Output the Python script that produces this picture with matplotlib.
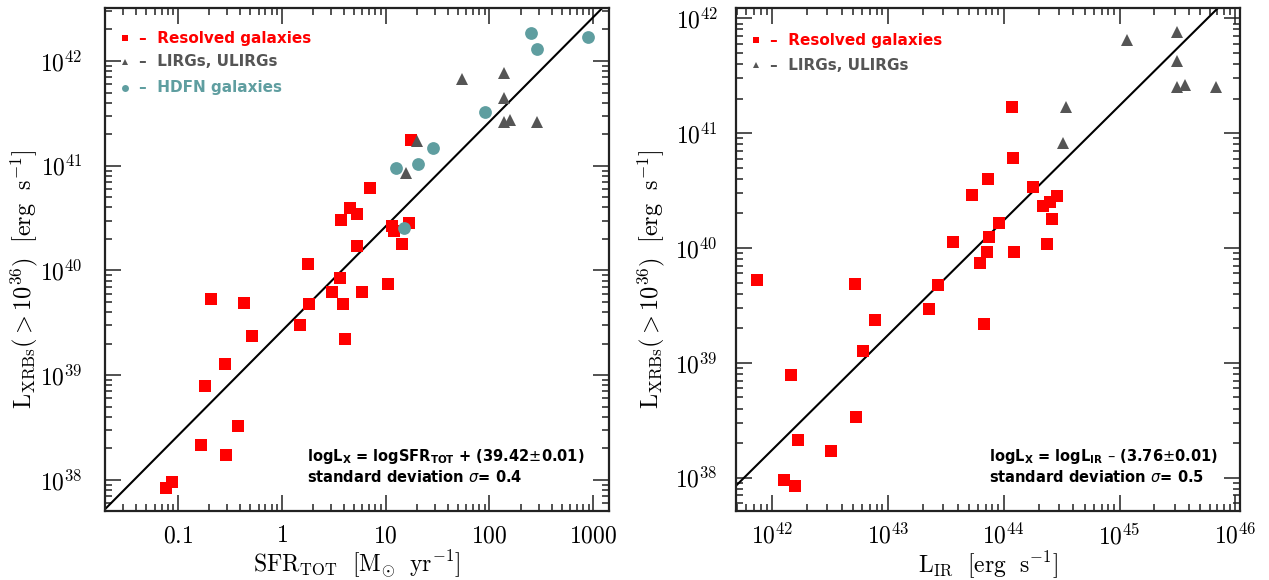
import numpy as np
import matplotlib
matplotlib.use("Agg")
import matplotlib.pyplot as plt
from matplotlib.ticker import LogLocator, FixedLocator, FixedFormatter, NullFormatter

plt.rcParams['mathtext.fontset'] = 'cm'

# ---------------- data (log10 values) ----------------
# Left panel: SFR_TOT vs L_XRBs
res_logsfr = [0.257, -0.68, -0.359, -0.282, -0.542, -0.74, -0.42, -0.776, -0.538,
              -1.052, -1.11, 0.18, 0.267, 0.488, 0.771, 0.594, 1.02, 0.613, 1.245,
              0.848, 0.661, 0.726, 0.575, 1.226, 1.064, 1.082, 0.729, 1.162, 0.565]
res_loglx_l = [40.06, 39.73, 39.69, 39.375, 39.105, 38.90, 38.52, 38.33, 38.236,
               37.98, 37.92, 39.48, 39.68, 39.79, 39.79, 39.68, 39.87, 39.344, 41.25,
               40.786, 40.60, 40.54, 40.48, 40.457, 40.426, 40.38, 40.23, 40.25, 39.93]
lirg_logsfr = [1.30, 1.20, 1.739, 2.143, 2.143, 2.137, 2.195, 2.461]
lirg_loglx_l = [41.24, 40.935, 41.83, 41.89, 41.65, 41.42, 41.44, 41.42]
hdfn_logsfr = [2.397, 2.458, 2.949, 1.958, 1.457, 1.104, 1.313, 1.178]
hdfn_loglx = [42.263, 42.117, 42.228, 41.51, 41.174, 40.98, 41.015, 40.41]

# Right panel: L_IR vs L_XRBs
res_loglir = [41.87, 42.713, 43.433, 43.56, 43.352, 42.886, 42.782, 42.169, 42.73,
              42.221, 42.512, 42.104, 42.195, 44.075, 44.084, 43.862, 43.727, 44.254,
              44.458, 44.403, 44.34, 44.415, 43.957, 43.87, 44.375, 43.853, 44.092,
              43.793, 43.83]
res_loglx_r = [39.72, 39.685, 39.68, 40.05, 39.473, 39.37, 39.103, 38.898, 38.528,
               38.331, 38.235, 37.98, 37.93, 41.23, 40.78, 40.597, 40.466, 40.527,
               40.45, 40.40, 40.37, 40.25, 40.22, 40.10, 40.035, 39.965, 39.965,
               39.87, 39.342]
lirg_loglir = [45.494, 45.066, 45.497, 45.50, 45.566, 45.834, 44.54, 44.51]
lirg_loglx_r = [41.878, 41.81, 41.63, 41.40, 41.42, 41.40, 41.224, 40.916]

fit_left_offset = 39.42
fit_right_offset = -3.76

xlim_left = (0.02, 1413)
ylim_left = (10**37.704, 10**42.506)
xlim_right = (10**41.69, 10**46.04)
ylim_right = (10**37.71, 10**42.09)

left_xticks = [0.1, 1, 10, 100, 1000]
left_xticklabels = [r'$0.1$', r'$1$', r'$10$', r'$100$', r'$1000$']
left_yticks = [1e38, 1e39, 1e40, 1e41, 1e42]
left_yticklabels = [r'$10^{38}$', r'$10^{39}$', r'$10^{40}$', r'$10^{41}$', r'$10^{42}$']
right_xticks = [1e42, 1e43, 1e44, 1e45, 1e46]
right_xticklabels = [r'$10^{42}$', r'$10^{43}$', r'$10^{44}$', r'$10^{45}$', r'$10^{46}$']
right_yticks = left_yticks
right_yticklabels = left_yticklabels

RED = '#ff0000'
GRAY = '#555555'
TEAL = '#5f9ea0'

fig = plt.figure(figsize=(12.69, 5.80), dpi=100)
axL = fig.add_axes([105/1269, 69/580, 504/1269, 503/580])
axR = fig.add_axes([736/1269, 69/580, 504/1269, 503/580])


def style(ax, xt, xtl, yt, ytl, ypad):
    ax.set_xscale('log')
    ax.set_yscale('log')
    ax.xaxis.set_major_locator(FixedLocator(xt))
    ax.xaxis.set_major_formatter(FixedFormatter(xtl))
    ax.yaxis.set_major_locator(FixedLocator(yt))
    ax.yaxis.set_major_formatter(FixedFormatter(ytl))
    ax.xaxis.set_minor_locator(LogLocator(base=10, subs=np.arange(2, 10), numticks=50))
    ax.yaxis.set_minor_locator(LogLocator(base=10, subs=np.arange(2, 10), numticks=50))
    ax.xaxis.set_minor_formatter(NullFormatter())
    ax.yaxis.set_minor_formatter(NullFormatter())
    ax.tick_params(which='both', direction='in', top=True, right=True, width=1.1,
                   color='#222222')
    ax.tick_params(which='major', length=11.5, labelsize=17)
    ax.tick_params(which='minor', length=5)
    ax.tick_params(axis='x', which='major', pad=9)
    ax.tick_params(axis='y', which='major', pad=ypad)
    for s in ax.spines.values():
        s.set_linewidth(1.6)
        s.set_color('#222222')


# ---------------- left panel ----------------
axL.set_xlim(*xlim_left)
axL.set_ylim(*ylim_left)
xs = np.array(xlim_left)
axL.plot(xs, 10**(np.log10(xs) + fit_left_offset), color='black', lw=1.5, zorder=2)
axL.plot(10**np.array(res_logsfr), 10**np.array(res_loglx_l), 's', color=RED,
         ms=8.6, mew=0, zorder=3)
axL.plot(10**np.array(lirg_logsfr), 10**np.array(lirg_loglx_l), '^', color=GRAY,
         ms=8.3, mew=0, zorder=4)
axL.plot(10**np.array(hdfn_logsfr), 10**np.array(hdfn_loglx), 'o', color=TEAL,
         ms=9.2, mew=0, zorder=5)
style(axL, left_xticks, left_xticklabels, left_yticks, left_yticklabels, 16)
axL.set_xlabel(r'$\mathrm{SFR_{TOT}\ \ [M_{\odot}\ \ yr^{-1}]}$', fontsize=17, labelpad=1)
axL.set_ylabel(r'$\mathrm{L_{XRBs}(>10^{36})\ \ [erg\ \ s^{-1}]}$', fontsize=17.5)
axL.yaxis.set_label_coords(-0.128, 0.46)

leg_font = dict(fontsize=11, fontweight='bold', family='DejaVu Sans')
legL = [('s', RED, 'Resolved galaxies', 0.940, 5),
        ('^', GRAY, 'LIRGs, ULIRGs', 0.893, 4.5),
        ('o', TEAL, 'HDFN galaxies', 0.841, 5)]
for mk, c, lab, yy, msz in legL:
    axL.plot([0.04], [yy], mk, color=c, ms=msz, mew=0, transform=axL.transAxes,
             clip_on=False)
    axL.text(0.067, yy, '\u2013  ' + lab, color=c, transform=axL.transAxes,
             va='center', ha='left', **leg_font)

ann_font = dict(fontsize=10.5, fontweight='bold', family='DejaVu Sans',
                math_fontfamily='dejavusans')
axL.text(0.40, 0.108, r'logL$_{\mathbf{X}}$ = logSFR$_{\mathbf{TOT}}$ + (39.42$\pm$0.01)',
         transform=axL.transAxes, va='center', ha='left', **ann_font)
axL.text(0.40, 0.068, r'standard deviation $\sigma$= 0.4',
         transform=axL.transAxes, va='center', ha='left', **ann_font)

# ---------------- right panel ----------------
axR.set_xlim(*xlim_right)
axR.set_ylim(*ylim_right)
xs = np.array(xlim_right)
axR.plot(xs, 10**(np.log10(xs) + fit_right_offset), color='black', lw=1.5, zorder=2)
axR.plot(10**np.array(res_loglir), 10**np.array(res_loglx_r), 's', color=RED,
         ms=8.6, mew=0, zorder=3)
axR.plot(10**np.array(lirg_loglir), 10**np.array(lirg_loglx_r), '^', color=GRAY,
         ms=8.3, mew=0, zorder=4)
style(axR, right_xticks, right_xticklabels, right_yticks, right_yticklabels, 13)
axR.set_xlabel(r'$\mathrm{L_{IR}\ \ [erg\ \ s^{-1}]}$', fontsize=17, labelpad=1)
axR.set_ylabel(r'$\mathrm{L_{XRBs}(>10^{36})\ \ [erg\ \ s^{-1}]}$', fontsize=17.5)
axR.yaxis.set_label_coords(-0.137, 0.46)

legR = [('s', RED, 'Resolved galaxies', 0.936, 5),
        ('^', GRAY, 'LIRGs, ULIRGs', 0.886, 4.5)]
for mk, c, lab, yy, msz in legR:
    axR.plot([0.04], [yy], mk, color=c, ms=msz, mew=0, transform=axR.transAxes,
             clip_on=False)
    axR.text(0.067, yy, '\u2013  ' + lab, color=c, transform=axR.transAxes,
             va='center', ha='left', **leg_font)

axR.text(0.502, 0.108, 'logL$_{\\mathbf{X}}$ = logL$_{\\mathbf{IR}}$ \u2013 (3.76$\\pm$0.01)',
         transform=axR.transAxes, va='center', ha='left', **ann_font)
axR.text(0.502, 0.068, r'standard deviation $\sigma$= 0.5',
         transform=axR.transAxes, va='center', ha='left', **ann_font)

fig.savefig('out.png', dpi=100)
